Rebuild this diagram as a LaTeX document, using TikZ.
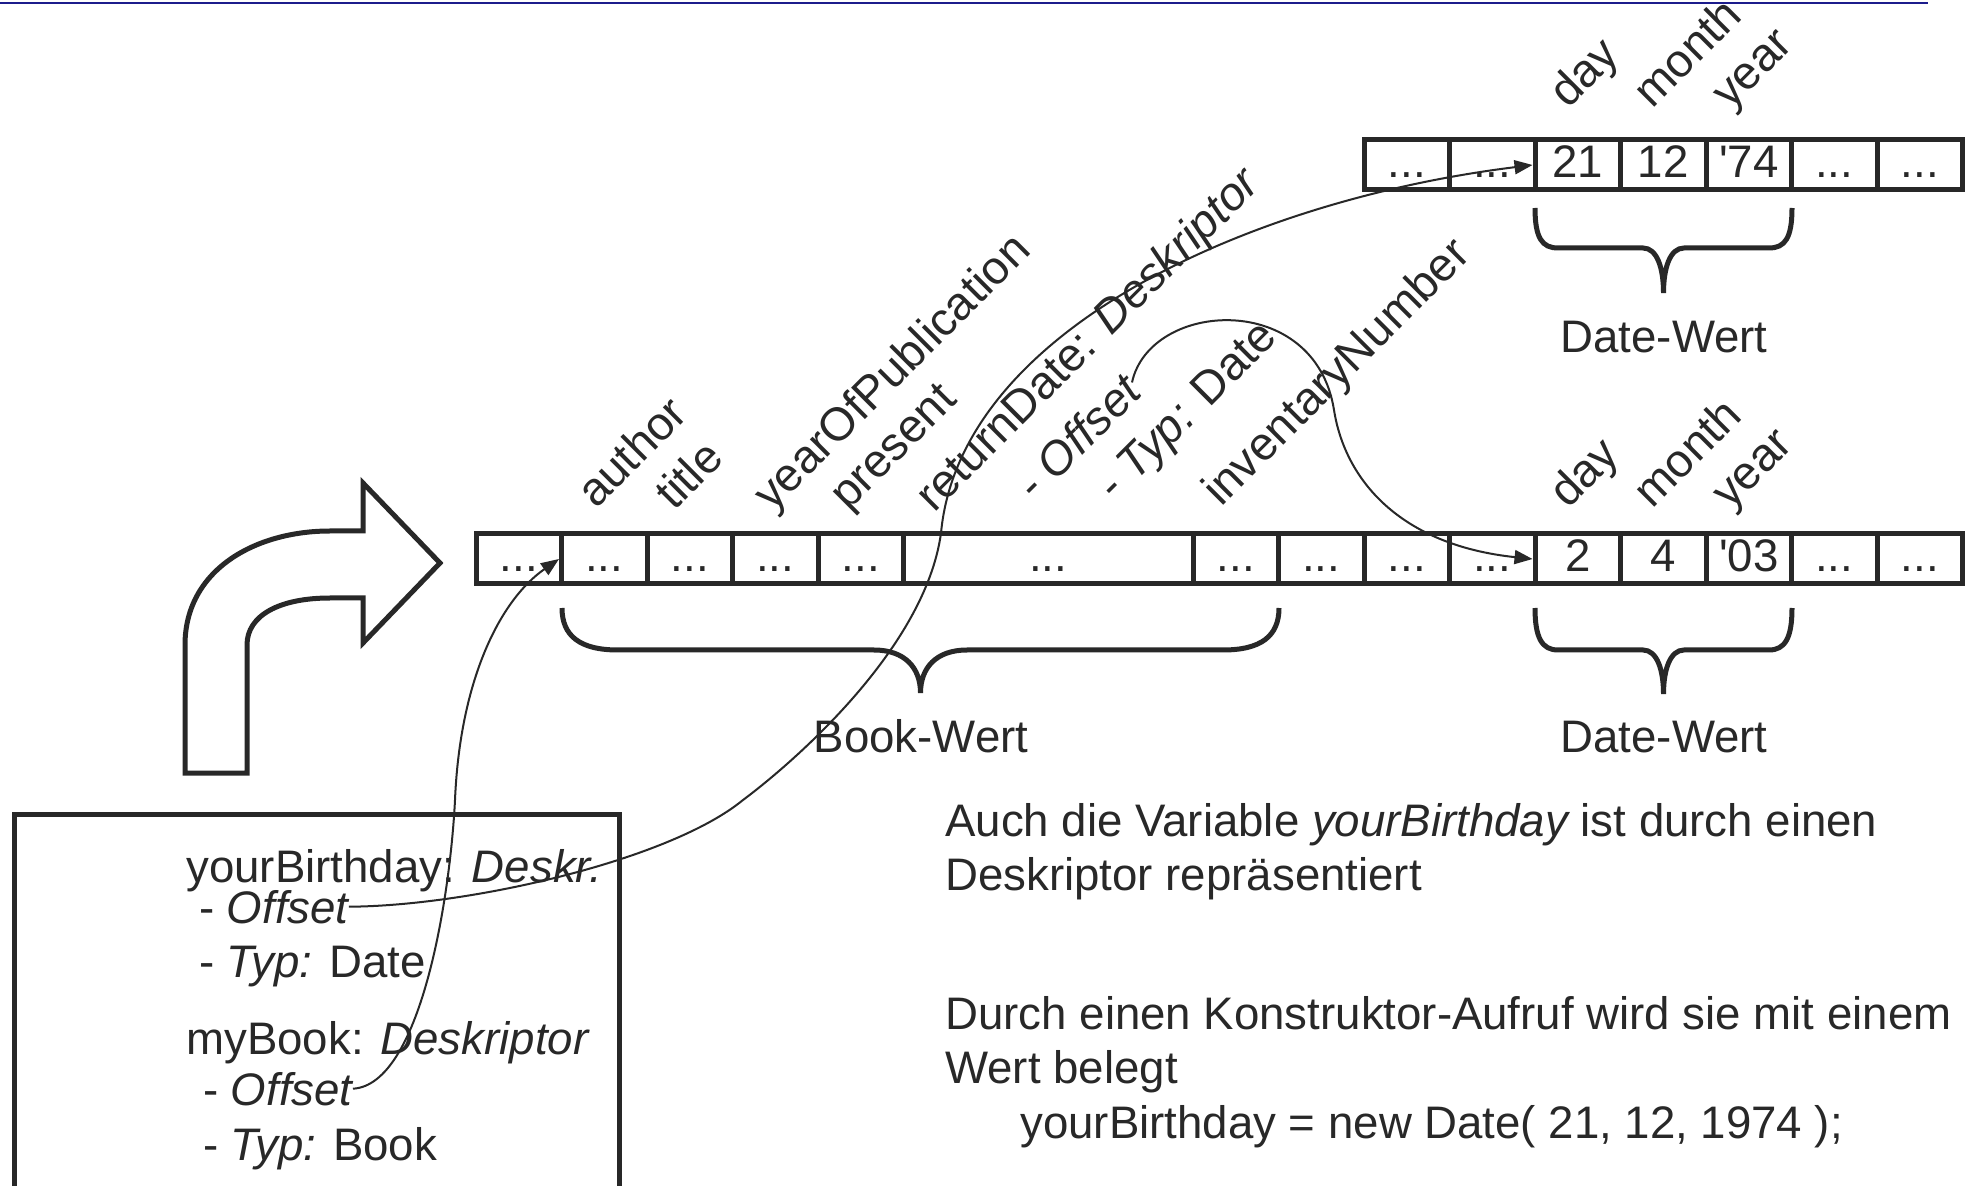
\documentclass[tikz,border=0pt]{standalone}
\usepackage{fontspec}
\setmainfont{Liberation Sans}
\usetikzlibrary{arrows.meta}
\definecolor{ink}{RGB}{40,40,40}
\definecolor{rulecol}{RGB}{28,28,140}
\newcommand{\qs}{\textquotesingle}
\begin{document}
\begin{tikzpicture}[x=0.5pt,y=-0.5pt,
  every node/.style={font=\fontsize{22.8pt}{27pt}\selectfont, text=ink, inner sep=0pt},
  cell/.style={draw=ink, line width=2.5pt, minimum height=25pt, minimum width=42.75pt,
               text height=13pt, text depth=0pt, inner sep=0pt},
  lbl/.style={rotate=45, anchor=base west, font=\fontsize{23.3pt}{27pt}\selectfont},
  txt/.style={anchor=base west},
  heavy/.style={draw=ink, line width=2.5pt},
  ptr/.style={draw=ink, line width=1pt, -{Triangle[length=9pt,width=7pt]}},
]
\clip (0,0) rectangle (1975,1186);
\fill[white] (0,0) rectangle (1975,1186);

% top rule
\draw[rulecol, line width=1.3pt] (0,3) -- (1928,3);

% ---------- top Date row ----------
\node[cell] (t1) at (1406.75,165) {...};
\node[cell] (t2) at (1492.25,165) {...};
\node[cell] (t3) at (1577.75,165) {21};
\node[cell] (t4) at (1663.25,165) {12};
\node[cell] (t5) at (1748.75,165) {\qs74};
\node[cell] (t6) at (1834.25,165) {...};
\node[cell] (t7) at (1919.75,165) {...};
\node[lbl] (td) at (1568,110) {day};
\node[lbl] (tm) at (1652,110) {month};
\node[lbl] (ty) at (1730,111) {year};
\draw[heavy] (1535,208) .. controls (1535,238) and (1542,248) .. (1558,248) -- (1643,248)
  .. controls (1657,248) and (1663.5,268) .. (1663.5,293)
  .. controls (1663.5,268) and (1670,248) .. (1684,248) -- (1769,248)
  .. controls (1785,248) and (1792,238) .. (1792,208);
\node[anchor=base] (tw) at (1664,353) {Date-Wert};

% ---------- Book / Date row ----------
\node[cell] (b1) at (518.75,559) {...};
\node[cell] (b2) at (604.25,559) {...};
\node[cell] (b3) at (689.75,559) {...};
\node[cell] (b4) at (775.25,559) {...};
\node[cell] (b5) at (860.75,559) {...};
\node[cell, minimum width=144.75pt] (b6) at (1048.25,559) {...};
\node[cell] (b7) at (1235.75,559) {...};
\node[cell] (b8) at (1321.25,559) {...};
\node[cell] (b9) at (1406.75,559) {...};
\node[cell] (b10) at (1492.25,559) {...};
\node[cell] (b11) at (1577.75,559) {2};
\node[cell] (b12) at (1663.25,559) {4};
\node[cell] (b13) at (1748.75,559) {\qs03};
\node[cell] (b14) at (1834.25,559) {...};
\node[cell] (b15) at (1919.75,559) {...};

\node[lbl] (l1) at (596,510) {author};
\node[lbl] (l2) at (674,512) {title};
\node[lbl] (l3) at (772,513) {yearOfPublication};
\node[lbl] (l4) at (848,512) {present};
\node[lbl] (l5) at (934,514) {returnDate: {\itshape Deskriptor}};
\node[lbl] (offs) at (1026,512) {\ - {\itshape Offset}};
\node[lbl] (l7) at (1106,512) {\ - {\itshape Typ:} Date};
\node[lbl] (l8) at (1221,508) {inventaryNumber};
\node[lbl] (ld) at (1568,510) {day};
\node[lbl] (lm) at (1652,510) {month};
\node[lbl] (ly) at (1730,511) {year};

% braces
\draw[heavy] (562,608) .. controls (562,636) and (580,650) .. (618,650) -- (874,650)
  .. controls (905,650) and (920.5,668) .. (920.5,693)
  .. controls (920.5,668) and (936,650) .. (967,650) -- (1223,650)
  .. controls (1261,650) and (1279,636) .. (1279,608);
\node[anchor=base] (bw) at (921,753) {Book-Wert};
\draw[heavy] (1535,608) .. controls (1535,638) and (1542,650) .. (1558,650) -- (1643,650)
  .. controls (1657,650) and (1663.5,670) .. (1663.5,694)
  .. controls (1663.5,670) and (1670,650) .. (1684,650) -- (1769,650)
  .. controls (1785,650) and (1792,638) .. (1792,608);
\node[anchor=base] (dw) at (1664,753) {Date-Wert};

% big bent arrow
\draw[heavy, fill=white, line join=miter] (185,773) -- (185,645)
  .. controls (185,570) and (255,531) .. (330,531) -- (363,531) -- (363,483)
  -- (440,563) -- (363,643) -- (363,598) -- (330,598)
  .. controls (280,598) and (247,615) .. (247,645) -- (247,773) -- cycle;

% descriptor box
\draw[heavy] (14.5,1195) -- (14.5,814.5) -- (619.5,814.5) -- (619.5,1195);
\node[txt] (y1) at (186,882) {yourBirthday: {\itshape Deskr.}};
\node[txt] (bo) at (186,923) {\ - {\itshape Offset}};
\node[txt] (y3) at (186,977) {\ - {\itshape Typ:} Date};
\node[txt] (m1) at (186,1054) {myBook: {\itshape Deskriptor}};
\node[txt] (mo) at (190,1105) {\ - {\itshape Offset}};
\node[txt] (m3) at (190,1160) {\ - {\itshape Typ:} Book};

% explanatory text
\node[txt] (e1) at (945,836) {Auch die Variable {\itshape yourBirthday} ist durch einen};
\node[txt] (e2) at (945,890) {Deskriptor repräsentiert};
\node[txt] (e3) at (945,1029) {Durch einen Konstruktor-Aufruf wird sie mit einem};
\node[txt] (e4) at (945,1083) {Wert belegt};
\node[txt] (e5) at (1020,1138) {yourBirthday = new Date( 21, 12, 1974 );};

% pointers
\draw[ptr] (bo.east) .. controls (470,906) and (670,860) .. (743,800)
  .. controls (790,765) and (925,650) .. (941,533)
  .. controls (960,330) and (1250,200) .. (t3.west);
\draw[ptr] (mo.east) .. controls (420,1085) and (450,900) .. (455,800)
  .. controls (460,680) and (500,600) .. (b2.west);
\draw[ptr] (offs.east) .. controls (1150,300) and (1315,290) .. (1334,410)
  .. controls (1345,480) and (1400,545) .. (b11.west);
\end{tikzpicture}
\end{document}
